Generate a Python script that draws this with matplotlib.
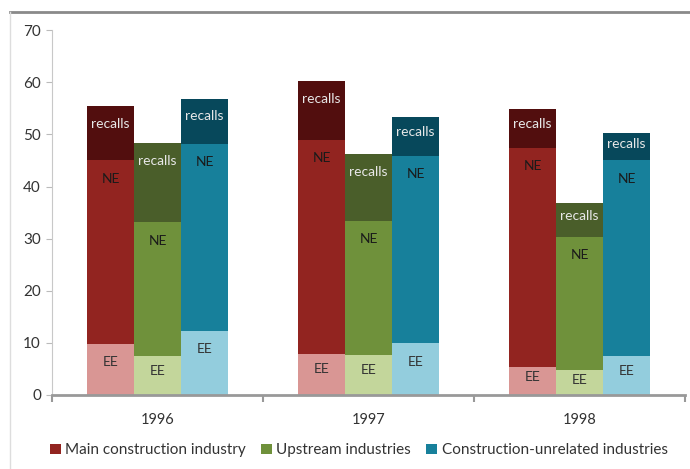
import matplotlib.pyplot as plt
from matplotlib.lines import Line2D
from matplotlib.patches import Patch

plt.rcParams['font.family'] = ['Lato', 'DejaVu Sans']

years = ['1996', '1997', '1998']
series = ['Main construction industry', 'Upstream industries', 'Construction-unrelated industries']

# segment heights per year: EE, NE, recalls
main_ee = [9.8, 7.9, 5.4]
main_ne = [35.2, 41.0, 42.0]
main_rec = [10.5, 11.4, 7.4]

up_ee = [7.5, 7.7, 4.7]
up_ne = [25.6, 25.7, 25.6]
up_rec = [15.3, 12.9, 6.5]

un_ee = [12.3, 9.9, 7.4]
un_ne = [35.9, 36.0, 37.6]
un_rec = [8.6, 7.4, 5.2]

seg_names = ['EE', 'NE', 'recalls']
colors = {
    'main': ['#d99694', '#922420', '#520e0e'],
    'up': ['#c3d69b', '#6f913b', '#4a5e2a'],
    'un': ['#93cddd', '#17809b', '#07485b'],
}
text_colors = ['#333333', '#1a1a1a', '#e8e8e8']

data = [('main', [main_ee, main_ne, main_rec]),
        ('up', [up_ee, up_ne, up_rec]),
        ('un', [un_ee, un_ne, un_rec])]

fig = plt.figure(figsize=(6.9, 4.69), dpi=100)
ax = fig.add_axes([0.0754, 0.158, 0.9174, 0.7776])

w = 0.223
offsets = [-w, 0, w]
for (key, segs), off in zip(data, offsets):
    for i in range(len(years)):
        bottom = 0
        for j, vals in enumerate(segs):
            v = vals[i]
            ax.bar(i + off, v, w, bottom=bottom, color=colors[key][j], edgecolor='none')
            top = bottom + v
            ty = max(top - 3.5, bottom + v * 0.62)
            ax.text(i + off, ty, seg_names[j], ha='center', va='center',
                    fontsize=10, color=text_colors[j])
            bottom = top

ax.set_xlim(-0.5, 2.5)
ax.set_ylim(0, 70)
ax.set_yticks(range(0, 71, 10))
ax.set_xticks(range(3))
ax.set_xticklabels(years)
ax.set_xticks([-0.5, 0.5, 1.5, 2.5], minor=True)
ax.tick_params(axis='x', which='major', length=0, pad=13, labelsize=10.5, labelcolor='#333333')
ax.tick_params(axis='x', which='minor', length=5, width=1.5, color='#999999')
ax.tick_params(axis='y', length=4, color='#bbbbbb', labelsize=11, labelcolor='#333333', pad=4)

for s in ['top', 'right']:
    ax.spines[s].set_visible(False)
ax.spines['left'].set_color('#c8c8c8')
ax.spines['bottom'].set_color('#999999')
ax.spines['bottom'].set_linewidth(2)

handles = [Patch(facecolor=colors[k][1]) for k in ['main', 'up', 'un']]
fig.legend(handles, series, loc='center', bbox_to_anchor=(0.52, 0.04), ncol=3,
           frameon=False, fontsize=11, handlelength=0.7, handleheight=0.7,
           handletextpad=0.3, columnspacing=1.0, labelcolor='#333333')

# frame lines of the original picture
fig.add_artist(Line2D([10 / 690, 1], [1 - 12 / 469, 1 - 12 / 469], color='#8a8a8a', lw=2))
fig.add_artist(Line2D([10 / 690, 10 / 690], [0, 1 - 12 / 469], color='#dddddd', lw=1))

fig.savefig('out.png', dpi=100)
